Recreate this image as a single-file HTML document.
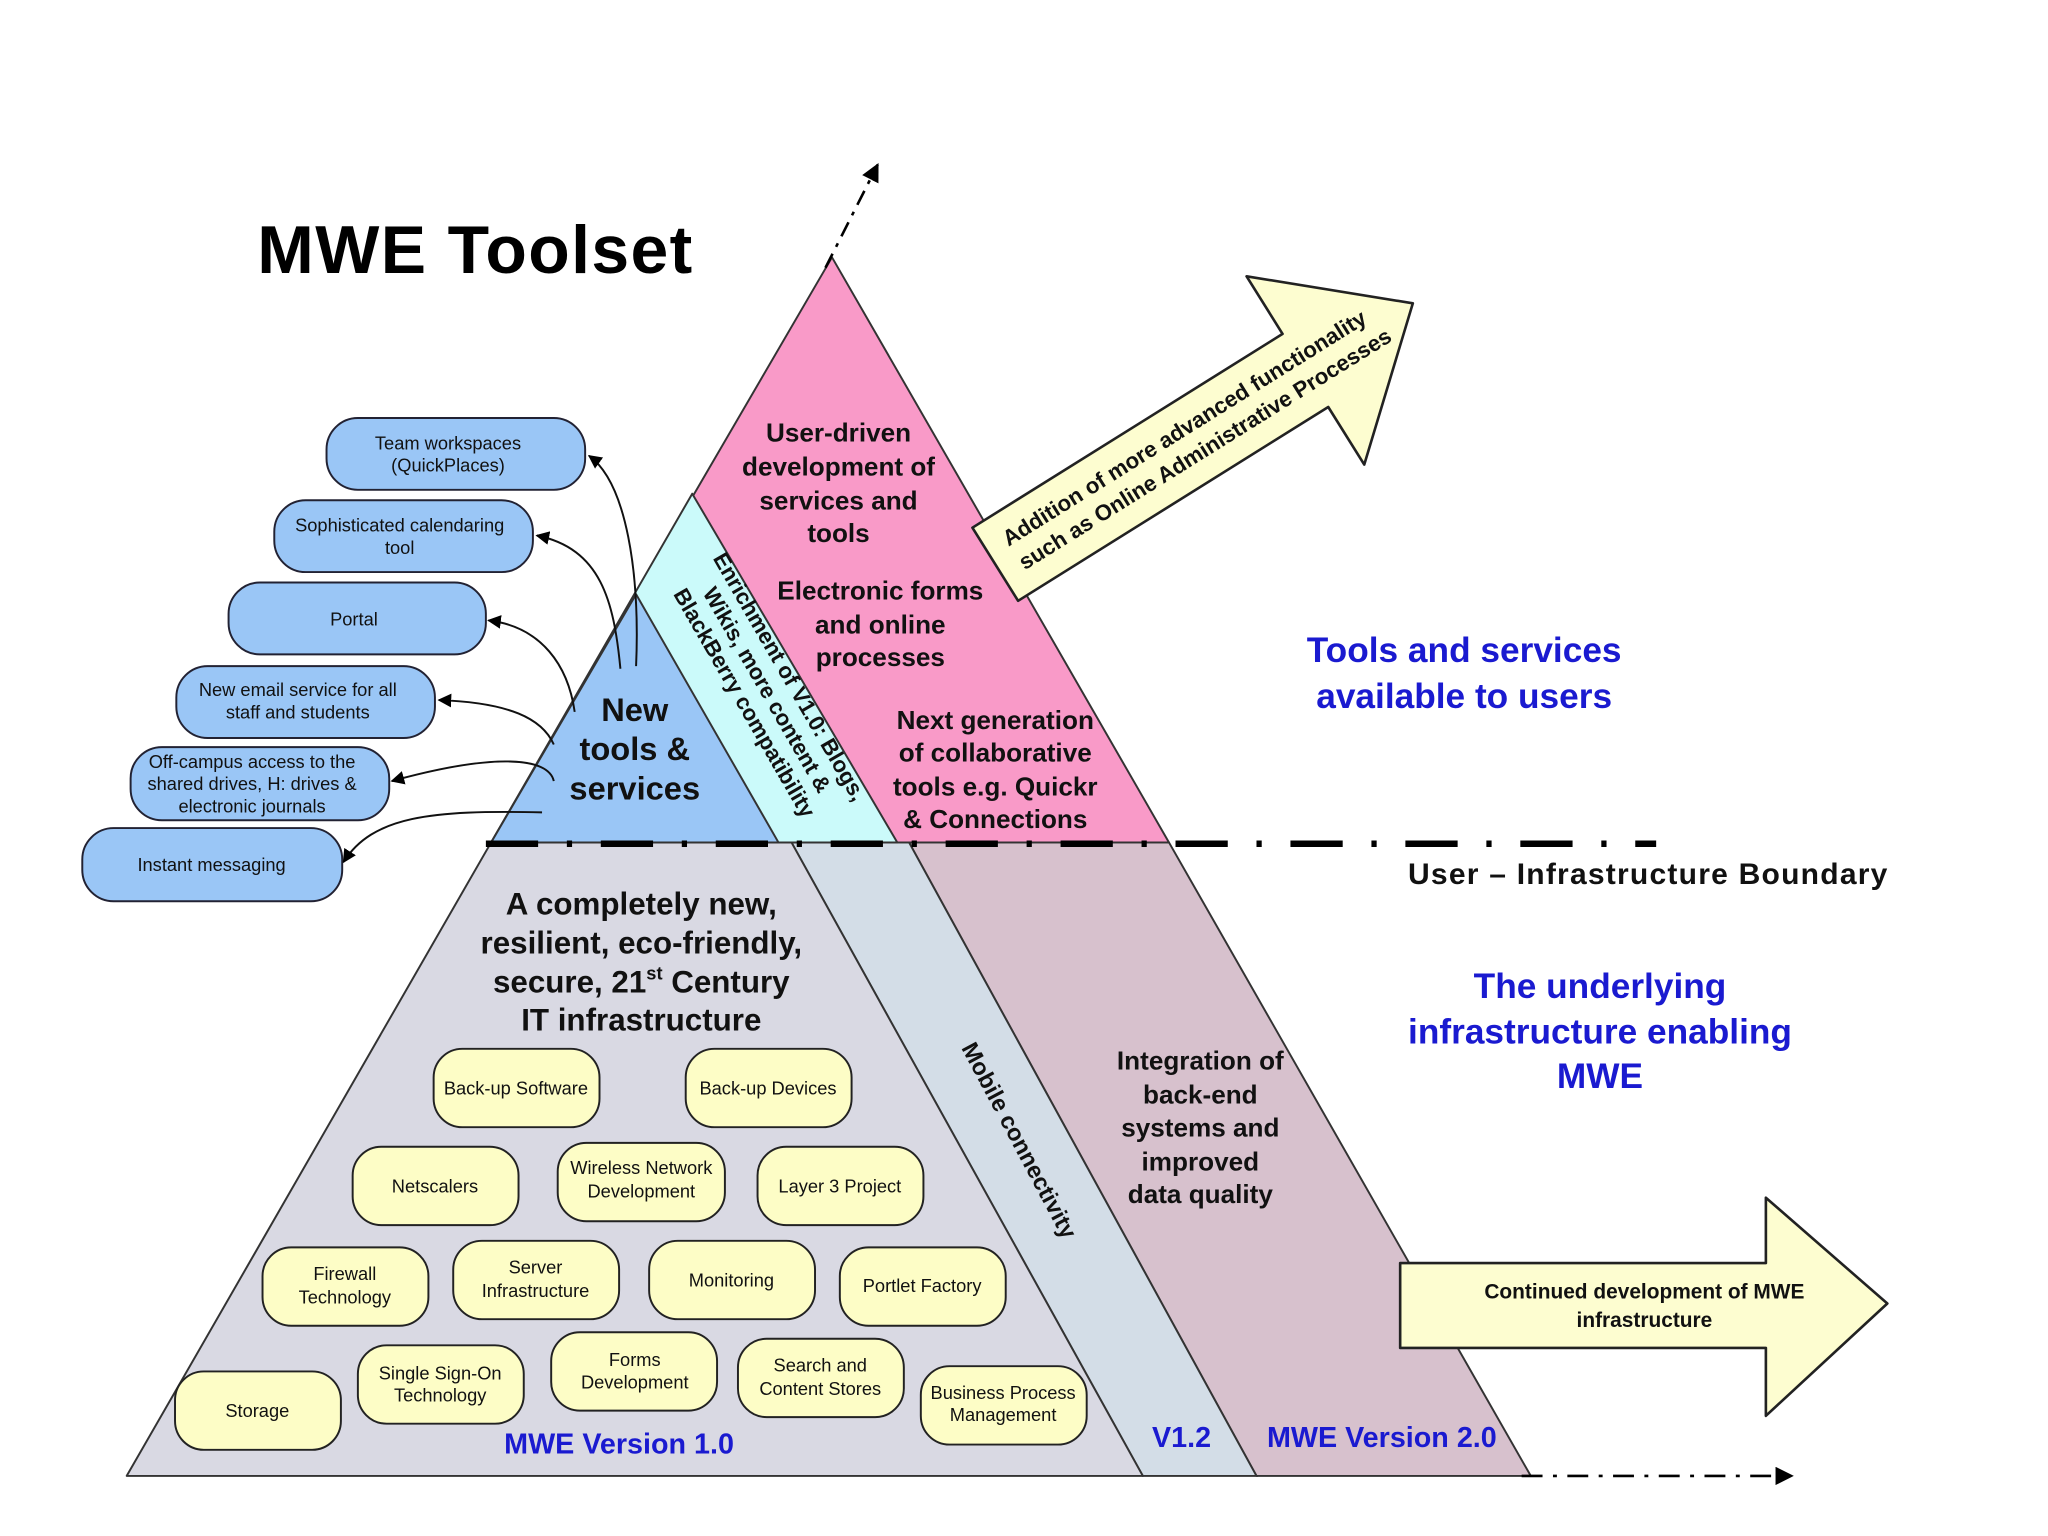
<!DOCTYPE html>
<html><head><meta charset="utf-8"><style>
html,body{margin:0;padding:0;background:#fff;}
svg{display:block;}
text{font-family:"Liberation Sans",sans-serif;}
</style></head><body>
<svg width="2048" height="1536" viewBox="0 0 1568 1176" xmlns="http://www.w3.org/2000/svg">
<defs>
<marker id="ah" viewBox="0 0 10 10" refX="9" refY="5" markerWidth="7" markerHeight="7" orient="auto"><path d="M0,0 L10,5 L0,10 z" fill="#000"/></marker>
</defs>
<rect width="1568" height="1176" fill="#fff"/>
<polygon points="696,645 895,645 1172,1130 962,1130" fill="#d7c1cd" stroke="#333" stroke-width="1.5" stroke-linejoin="round"/>
<polygon points="606,645 696,645 962,1130 875,1130" fill="#d3dde7" stroke="#333" stroke-width="1.5"/>
<polygon points="376,645 606,645 875,1130 97,1130" fill="#d9d9e3" stroke="#333" stroke-width="1.5" stroke-linejoin="round"/>
<polygon points="637,197 895,645 376,645" fill="#f99ac8" stroke="#333" stroke-width="1.5" stroke-linejoin="round"/>
<polygon points="530,378 687,645 376,645" fill="#cbfafa" stroke="#333" stroke-width="1.5" stroke-linejoin="round"/>
<polygon points="487,455 596,645 376,645" fill="#9ac6f6" stroke="#333" stroke-width="1.5" stroke-linejoin="round"/>
<line x1="372" y1="646" x2="1268" y2="646" stroke="#000" stroke-width="5" stroke-dasharray="40,22,4,22"/>
<text x="1078" y="677" font-size="23" font-weight="bold" fill="#111" textLength="367">User – Infrastructure Boundary</text>
<line x1="632" y1="205" x2="672" y2="126" stroke="#000" stroke-width="2" stroke-dasharray="12,6,3,6" marker-end="url(#ah)"/>
<line x1="1165" y1="1130" x2="1372" y2="1130" stroke="#000" stroke-width="2" stroke-dasharray="16,8,3,8" marker-end="url(#ah)"/>
<text x="197" y="209" font-size="52" font-weight="bold" fill="#000" textLength="333">MWE Toolset</text>
<g font-size="20" font-weight="bold" fill="#111" text-anchor="middle">
<text x="642" y="338">User-driven</text><text x="642" y="364">development of</text><text x="642" y="390">services and</text><text x="642" y="415">tools</text>
<text x="674" y="459">Electronic forms</text><text x="674" y="485">and online</text><text x="674" y="510">processes</text>
<text x="762" y="558">Next generation</text><text x="762" y="583">of collaborative</text><text x="762" y="609">tools e.g. Quickr</text><text x="762" y="634">&amp; Connections</text>
</g>
<g font-size="25" font-weight="bold" fill="#111" text-anchor="middle">
<text x="486" y="552">New</text><text x="486" y="582">tools &amp;</text><text x="486" y="612">services</text>
</g>
<g transform="translate(584,530) rotate(60)" font-size="17" font-weight="bold" fill="#111" text-anchor="middle">
<text x="0" y="-18">Enrichment of V1.0: Blogs,</text><text x="0" y="2">Wikis, more content &amp;</text><text x="0" y="22">BlackBerry compatibility</text>
</g>
<g font-size="24" font-weight="bold" fill="#111" text-anchor="middle">
<text x="491" y="700">A completely new,</text><text x="491" y="730">resilient, eco-friendly,</text>
<text x="491" y="760">secure, 21<tspan font-size="14" dy="-10">st</tspan><tspan dy="10"> Century</tspan></text>
<text x="491" y="789">IT infrastructure</text>
</g>
<g font-size="20" font-weight="bold" fill="#111" text-anchor="middle">
<text x="919" y="819">Integration of</text><text x="919" y="845">back-end</text><text x="919" y="870">systems and</text><text x="919" y="896">improved</text><text x="919" y="921">data quality</text>
</g>
<text transform="translate(775,876) rotate(62)" font-size="18" font-weight="bold" fill="#111" text-anchor="middle">Mobile connectivity</text>
<g font-size="22" font-weight="bold" fill="#1a1ad0">
<text x="386" y="1113">MWE Version 1.0</text><text x="882" y="1108">V1.2</text><text x="970" y="1108">MWE Version 2.0</text>
</g>
<g font-size="27" font-weight="bold" fill="#1a1ad0" text-anchor="middle">
<text x="1121" y="507">Tools and services</text><text x="1121" y="542">available to users</text>
<text x="1225" y="764">The underlying</text><text x="1225" y="799">infrastructure enabling</text><text x="1225" y="833">MWE</text>
</g>
<g transform="translate(762,432) rotate(-32)">
<path d="M0,-33 L280,-33 L280,-85 L377,0 L280,85 L280,33 L0,33 Z" fill="#fdfdd0" stroke="#222" stroke-width="2" stroke-linejoin="round"/>
<text x="178" y="-6" font-size="17" font-weight="bold" fill="#111" text-anchor="middle">Addition of more advanced functionality</text>
<text x="183" y="16" font-size="17" font-weight="bold" fill="#111" text-anchor="middle">such as Online Administrative Processes</text>
</g>
<path d="M1072,967 L1352,967 L1352,917 L1445,998 L1352,1084 L1352,1032 L1072,1032 Z" fill="#fdfdd0" stroke="#222" stroke-width="2" stroke-linejoin="round"/>
<text x="1259" y="994" font-size="16" font-weight="bold" fill="#111" text-anchor="middle">Continued development of MWE</text>
<text x="1259" y="1016" font-size="16" font-weight="bold" fill="#111" text-anchor="middle">infrastructure</text>
<g fill="#9ac6f6" stroke="#223" stroke-width="1.5">
<rect x="250" y="320" width="198" height="55" rx="24"/>
<rect x="210" y="383" width="198" height="55" rx="24"/>
<rect x="175" y="446" width="197" height="55" rx="24"/>
<rect x="135" y="510" width="198" height="55" rx="24"/>
<rect x="100" y="572" width="198" height="56" rx="24"/>
<rect x="63" y="634" width="199" height="56" rx="24"/>
</g>
<g font-size="14" fill="#111" text-anchor="middle">
<text x="343" y="344">Team workspaces</text><text x="343" y="361">(QuickPlaces)</text>
<text x="306" y="407">Sophisticated calendaring</text><text x="306" y="424">tool</text>
<text x="271" y="479">Portal</text>
<text x="228" y="533">New email service for all</text><text x="228" y="550">staff and students</text>
<text x="193" y="588">Off-campus access to the</text><text x="193" y="605">shared drives, H: drives &amp;</text><text x="193" y="622">electronic journals</text>
<text x="162" y="667">Instant messaging</text>
</g>
<g fill="none" stroke="#111" stroke-width="1.5" marker-end="url(#ah)">
<path d="M487,510 C490,440 480,370 451,349"/>
<path d="M475,512 C470,460 460,420 411,410"/>
<path d="M440,545 C435,510 415,480 374,475"/>
<path d="M424,570 C415,550 390,538 336,536"/>
<path d="M424,598 C420,580 380,576 300,598"/>
<path d="M415,622 C330,620 285,625 263,660"/>
</g>
<g fill="#fdfdc6" stroke="#222" stroke-width="1.5">
<rect x="332" y="803" width="127" height="60" rx="22"/>
<rect x="525" y="803" width="127" height="60" rx="22"/>
<rect x="270" y="878" width="127" height="60" rx="22"/>
<rect x="427" y="875" width="128" height="60" rx="22"/>
<rect x="580" y="878" width="127" height="60" rx="22"/>
<rect x="201" y="955" width="127" height="60" rx="22"/>
<rect x="347" y="950" width="127" height="60" rx="22"/>
<rect x="497" y="950" width="127" height="60" rx="22"/>
<rect x="643" y="955" width="127" height="60" rx="22"/>
<rect x="134" y="1050" width="127" height="60" rx="22"/>
<rect x="274" y="1030" width="127" height="60" rx="22"/>
<rect x="422" y="1020" width="127" height="60" rx="22"/>
<rect x="565" y="1025" width="127" height="60" rx="22"/>
<rect x="705" y="1046" width="127" height="60" rx="22"/>
</g>
<g font-size="14" fill="#111" text-anchor="middle">
<text x="395" y="838">Back-up Software</text>
<text x="588" y="838">Back-up Devices</text>
<text x="333" y="913">Netscalers</text>
<text x="491" y="899">Wireless Network</text><text x="491" y="917">Development</text>
<text x="643" y="913">Layer 3 Project</text>
<text x="264" y="980">Firewall</text><text x="264" y="998">Technology</text>
<text x="410" y="975">Server</text><text x="410" y="993">Infrastructure</text>
<text x="560" y="985">Monitoring</text>
<text x="706" y="989">Portlet Factory</text>
<text x="197" y="1085">Storage</text>
<text x="337" y="1056">Single Sign-On</text><text x="337" y="1073">Technology</text>
<text x="486" y="1046">Forms</text><text x="486" y="1063">Development</text>
<text x="628" y="1050">Search and</text><text x="628" y="1068">Content Stores</text>
<text x="768" y="1071">Business Process</text><text x="768" y="1088">Management</text>
</g>
</svg>
</body></html>
